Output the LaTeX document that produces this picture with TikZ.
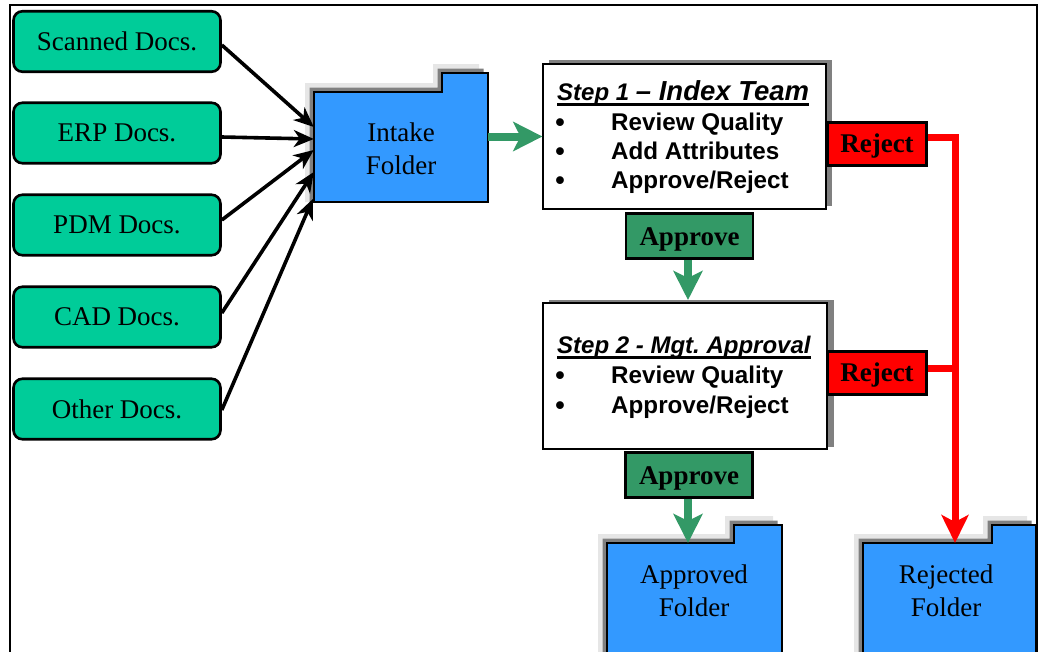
\documentclass[tikz,border=0pt]{standalone}
\usepackage{fontspec}
\setmainfont{Liberation Serif}
\newfontfamily\arialf{Liberation Sans}
\usetikzlibrary{arrows.meta,calc}
\definecolor{docteal}{HTML}{00CC99}
\definecolor{fblue}{HTML}{3399FF}
\definecolor{agreen}{HTML}{339966}
\definecolor{dgray}{HTML}{808080}
\definecolor{lgray}{HTML}{E6E6E6}
\frenchspacing
\newcommand\drawfolder[6]{% left, body top, right, bottom, tab x, tab top
  \fill[lgray] (#1-9,#4) -- (#1-9,#2-9) -- (#5-9,#2-9) -- (#5-9,#6-9) -- (#3-9,#6-9) -- (#3-9,#4) -- cycle;
  \fill[dgray] (#1-4.5,#4) -- (#1-4.5,#2-4.5) -- (#5-4.5,#2-4.5) -- (#5-4.5,#6-4.5) -- (#3-4.5,#6-4.5) -- (#3-4.5,#4) -- cycle;
  \draw[fill=fblue,line width=1.3pt] (#1,#4) -- (#1,#2) -- (#5,#2) -- (#5,#6) -- (#3,#6) -- (#3,#4) -- cycle;}
\begin{document}
\begin{tikzpicture}[x=1pt,y=-1pt,
  doc/.style={draw=black,line width=2.6pt,fill=docteal,rounded corners=9pt,minimum width=207pt,minimum height=60.5pt,inner sep=0pt,font=\fontsize{27}{30}\selectfont},
  fldtext/.style={align=center,inner sep=0pt,font=\fontsize{27}{33}\selectfont},
  stepbox/.style={draw=black,line width=1.2pt,fill=white,inner sep=0pt},
  title/.style={anchor=base west,inner sep=0pt,font=\arialf\bfseries\itshape\fontsize{24}{28}\selectfont},
  item/.style={anchor=base west,inner sep=0pt,font=\arialf\bfseries\fontsize{24.2}{28}\selectfont},
  bul/.style={anchor=base,inner sep=0pt,font=\arialf\bfseries\fontsize{27}{28}\selectfont},
  rejbox/.style={draw=black,line width=2.6pt,fill=red,minimum width=99pt,minimum height=43.5pt,inner sep=0pt,text height=17.5pt,text depth=0pt,font=\bfseries\fontsize{27}{30}\selectfont},
  appbox/.style={draw=black,line width=2.6pt,fill=agreen,minimum width=127pt,minimum height=45.5pt,inner sep=0pt,text height=18pt,text depth=0pt,font=\bfseries\fontsize{27}{30}\selectfont},
  blk/.style={draw=black,line width=3.6pt,-{Stealth[length=20pt,width=17pt,inset=6pt]}},
  grn/.style={draw=agreen,line width=8pt,-{Stealth[length=29pt,width=29pt,inset=7pt]}},
  redl/.style={draw=red,line width=7pt},
  reda/.style={redl,-{Stealth[length=28pt,width=27pt,inset=7pt]}}
]
\useasboundingbox (0,0) rectangle (1039,651);
\clip (0,0) rectangle (1039,651);
% frame
\draw[line width=2pt] (10,660) -- (10,5) -- (1037,5) -- (1037,660);

% document sources
\node[doc] (scan) at (117,41.5) {Scanned Docs.};
\node[doc] (erp)  at (117,133)  {ERP Docs.};
\node[doc] (pdm)  at (117,225)  {PDM Docs.};
\node[doc] (cad)  at (117,317)  {CAD Docs.};
\node[doc] (oth)  at (117,409)  {Other Docs.};

% intake folder
\drawfolder{314}{92}{488}{202}{442}{73}
\node[fldtext,minimum width=174pt,minimum height=110pt] (intake) at (401,149) {Intake\\Folder};

% approved / rejected folders
\drawfolder{607}{543}{782}{670}{734}{525}
\node[fldtext] (apf) at (694,591) {Approved\\Folder};
\coordinate (apin) at (688,543);
\drawfolder{863}{543}{1036}{670}{992}{525}
\node[fldtext] (rjf) at (946,591) {Rejected\\Folder};
\coordinate (rjin) at (955,543);

% arrows into intake
\draw[blk] ($(scan.east)+(0,3.5)$) -- ($(intake.west)+(0,-22)$);
\draw[blk] ($(erp.east)+(0,4)$)    -- ($(intake.west)+(0,-10)$);
\draw[blk] ($(pdm.east)+(0,-5)$)   -- ($(intake.west)+(0,1)$);
\draw[blk] ($(cad.east)+(0,-4)$)   -- ($(intake.west)+(0,23)$);
\draw[blk] ($(oth.east)+(0,1)$)    -- ($(intake.west)+(-1,50)$);

% step 1
\fill[dgray] (549,60) rectangle (832,206);
\node[stepbox,minimum width=283pt,minimum height=145pt] (s1) at (684.5,136.5) {};
\node[title] (t1) at (557,100) {Step 1 {\fontsize{27.5}{30}\selectfont – Index Team}};
\draw[line width=2.3pt] ([yshift=-4.5pt]t1.base west) -- ([yshift=-4.5pt]t1.base east);
\node[bul] (d11) at (560,131) {•};
\node[item] (i11) at (611,130) {Review Quality};
\node[bul] (d12) at (560,160) {•};
\node[item] (i12) at (611,159) {Add Attributes};
\node[bul] (d13) at (560,189) {•};
\node[item] (i13) at (611,188) {Approve/Reject};

% step 2
\fill[dgray] (549,300) rectangle (834,447);
\node[stepbox,minimum width=284pt,minimum height=146pt] (s2) at (685,376) {};
\node[title] (t2) at (557,353) {Step 2 - Mgt. Approval};
\draw[line width=2.3pt] ([yshift=-4.5pt]t2.base west) -- ([yshift=-4.5pt]t2.base east);
\node[bul] (d21) at (560,384) {•};
\node[item] (i21) at (611,383) {Review Quality};
\node[bul] (d22) at (560,414) {•};
\node[item] (i22) at (611,413) {Approve/Reject};

% intake -> step 1
\draw[grn] (intake.east |- s1.west) -- (s1.west);

% approve labels
\node[appbox] (app1) at (689.5,236) {Approve};
\node[appbox] (app2) at (689,475) {Approve};
\draw[grn] (app1.south -| 688,0) -- (688,300);
\draw[grn] (app2.south -| apin) -- (apin);

% reject labels and red lines
\node[rejbox] (rej1) at (877,144) {Reject};
\node[rejbox] (rej2) at (877,373) {Reject};
\draw[reda] ([yshift=6.5pt]rej1.east) -| (rjin);
\draw[redl] ([yshift=5pt]rej2.east) coordinate (r2a) -- (r2a -| rjin);
\end{tikzpicture}
\end{document}
